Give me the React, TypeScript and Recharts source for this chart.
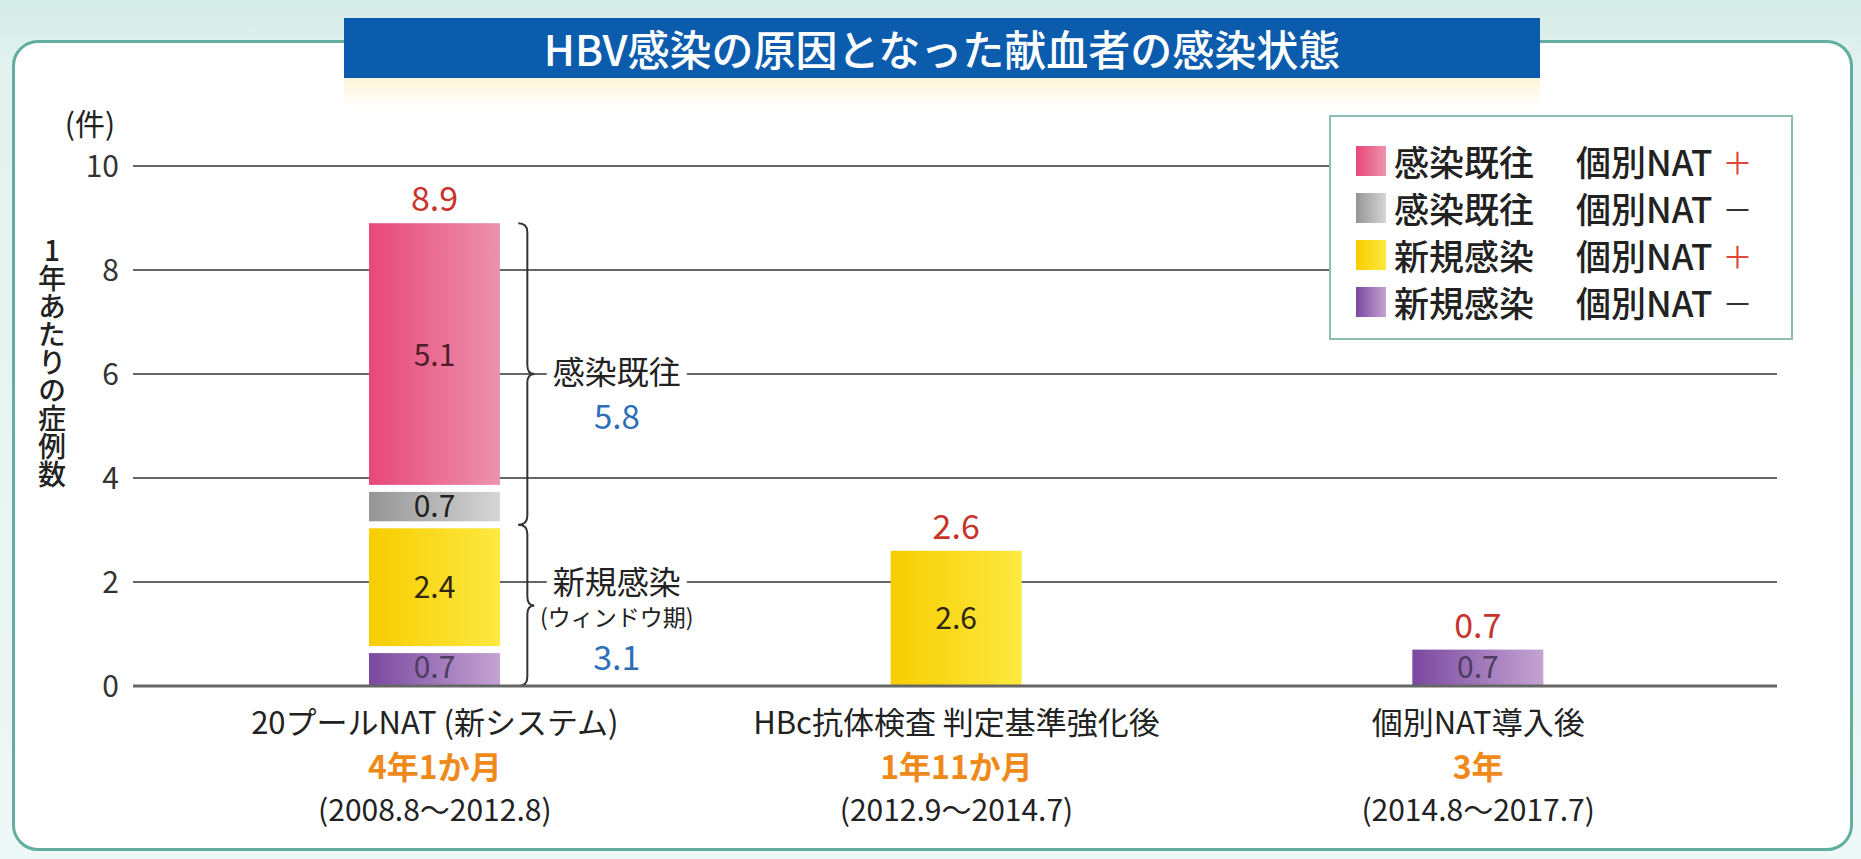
import React from 'react';
import { BarChart, Bar, XAxis, YAxis, CartesianGrid, LabelList, Legend, ReferenceArea } from 'recharts';

const FONT = '"Noto Sans CJK JP", "Noto Sans", sans-serif';

// periods on the x axis (3 lines per tick)
const periods = ['20プールNAT (新システム)', 'HBc抗体検査 判定基準強化後', '個別NAT導入後'];
const durations = ['4年1か月', '1年11か月', '3年'];
const dateRanges = ['(2008.8～2012.8)', '(2012.9～2014.7)', '(2014.8～2017.7)'];

// cases per year, stacked bottom -> top
const newNatNeg = [0.7, 0, 0.7];
const newNatPos = [2.4, 2.6, 0];
const pastNatNeg = [0.7, 0, 0];
const pastNatPos = [5.1, 0, 0];
const totals = [8.9, 2.6, 0.7];

const yTicks = [0, 2, 4, 6, 8, 10];

const seriesKeys = ['newNatNeg', 'newNatPos', 'pastNatNeg', 'pastNatPos'];
const seriesStatus = ['新規感染', '新規感染', '感染既往', '感染既往'];
const seriesNat = ['個別NAT', '個別NAT', '個別NAT', '個別NAT'];
const seriesSign = ['－', '＋', '－', '＋'];
const seriesGrad = [
    ['#7a48a0', '#c4a4d2'],
    ['#f7cd00', '#fde940'],
    ['#959595', '#d6d6d6'],
    ['#e8477a', '#ec93ad'],
];
const seriesText = ['#4d3d60', '#2e2610', '#222222', '#4f1c2a'];

const data = periods.map((period, i) => ({
    period,
    newNatNeg: newNatNeg[i],
    newNatPos: newNatPos[i],
    pastNatNeg: pastNatNeg[i],
    pastNatPos: pastNatPos[i],
    total: totals[i],
}));

const BAR_SIZE = 131;
const GAP = 7;

// rectangle with a white gap where it touches another segment
function segmentShape(k: number) {
    return (props: any) => {
        const { x, y, width, height, fill, payload } = props;
        if (!height || height <= 0) return <g />;
        const below = seriesKeys.slice(0, k).reduce((s, key) => s + (payload[key] || 0), 0);
        const above = seriesKeys.slice(k + 1).reduce((s, key) => s + (payload[key] || 0), 0);
        const t = above > 0 ? GAP / 2 : 0;
        const b = below > 0 ? GAP / 2 : 0;
        return <rect x={x} y={y + t} width={width} height={Math.max(0, height - t - b)} fill={fill} />;
    };
}

type BraceLine = { text: string; size: number; color: string; dy: number; bg?: boolean };

function braceShape(lines: BraceLine[]) {
    return (p: any) => {
        const cx = p.x + p.width / 2;
        const bx = cx + BAR_SIZE / 2 + 18;
        const top = p.y;
        const bot = p.y + p.height;
        const mid = (top + bot) / 2;
        const r = 9;
        const d = `M${bx},${top} Q${bx + r},${top} ${bx + r},${top + r} L${bx + r},${mid - r} Q${bx + r},${mid} ${bx + r + 7},${mid} Q${bx + r},${mid} ${bx + r},${mid + r} L${bx + r},${bot - r} Q${bx + r},${bot} ${bx},${bot}`;
        const tx = cx + 182;
        return (
            <g>
                <path d={d} fill="none" stroke="#333" strokeWidth={2} />
                {lines.map((l, i) => (
                    <g key={i}>
                        {l.bg && (
                            <rect x={tx - l.text.length * l.size / 2 - 6} y={mid + l.dy - l.size / 2}
                                width={l.text.length * l.size + 12} height={l.size} fill="#fff" />
                        )}
                        <text x={tx} y={mid + l.dy} textAnchor="middle" dominantBaseline="central"
                            fontSize={l.size} fill={l.color} fontFamily={FONT}>{l.text}</text>
                    </g>
                ))}
            </g>
        );
    };
}

const PeriodTick = (props: any) => {
    const { x, y, payload } = props;
    const i = periods.indexOf(payload.value);
    return (
        <g fontFamily={FONT}>
            <text x={x} y={y + 32} textAnchor="middle" dominantBaseline="central" fontSize={31} fill="#222">{periods[i]}</text>
            <text x={x} y={y + 77} textAnchor="middle" dominantBaseline="central" fontSize={32} fontWeight={700} fill="#ef8a1a">{durations[i]}</text>
            <text x={x} y={y + 120} textAnchor="middle" dominantBaseline="central" fontSize={30} fill="#222">{dateRanges[i]}</text>
        </g>
    );
};

const YTitle = (props: any) => {
    const { viewBox } = props;
    const vx = viewBox.x;
    const vy = viewBox.y;
    return (
        <g fontFamily={FONT} fill="#222">
            <text x={vx + 17} y={vy - 44} textAnchor="middle" dominantBaseline="central" fontSize={30}>(件)</text>
            <text x={vx - 21} y={vy + 196} textAnchor="middle" fontSize={28} fontWeight={500}
                style={{ writingMode: 'vertical-rl', textOrientation: 'upright' } as any}>1年あたりの症例数</text>
        </g>
    );
};

const renderLegend = () => (
    <div style={{
        width: 464, height: 225, boxSizing: 'border-box', border: '2px solid #8dbcb2', background: '#fff',
        padding: '20px 0 0 25px', fontFamily: FONT, color: '#222', fontWeight: 500,
    }}>
        {[3, 2, 1, 0].map((k) => (
            <div key={k} style={{ display: 'flex', alignItems: 'center', height: 47 }}>
                <span style={{ width: 30, height: 30, background: `linear-gradient(to right, ${seriesGrad[k][0]}, ${seriesGrad[k][1]})` }} />
                <span style={{ marginLeft: 8, width: 182, fontSize: 35 }}>{seriesStatus[k]}</span>
                <span style={{ fontSize: 35 }}>{seriesNat[k]}</span>
                <span style={{ marginLeft: 10, fontSize: 30, fontWeight: 400, color: seriesSign[k] === '＋' ? '#e0483a' : '#333' }}>{seriesSign[k]}</span>
            </div>
        ))}
    </div>
);

const fmt = (v: any) => (Number(v) > 0 ? Number(v).toFixed(1) : '');

export default function App() {
    const pastSum = pastNatNeg[0] + pastNatPos[0];
    const newSum = newNatNeg[0] + newNatPos[0];
    return (
        <div style={{ position: 'absolute', left: 0, top: 0, width: 1861, height: 859, overflow: 'hidden', background: 'linear-gradient(#d4ebe6, #e2f2ee 60px, #eef8f6)' }}>
            <div style={{ position: 'absolute', left: 12, top: 40, width: 1841, height: 811, boxSizing: 'border-box', border: '3px solid #62ae9f', borderRadius: 26, background: '#fff' }} />
            <div style={{ position: 'absolute', left: 344, top: 78, width: 1196, height: 30, background: 'linear-gradient(#fcf3d6, #fff)' }} />
            <div style={{
                position: 'absolute', left: 344, top: 18, width: 1196, height: 60, background: '#0c5cae',
                color: '#fff', fontFamily: FONT, fontSize: 42, fontWeight: 500, lineHeight: '60px', textAlign: 'center',
            }}>HBV感染の原因となった献血者の感染状態</div>
            <div style={{ position: 'absolute', left: 0, top: 0 }}>
                <BarChart width={1861} height={859} data={data} margin={{ top: 166, right: 84, bottom: 23, left: 73 }}>
                    <defs>
                        {seriesKeys.map((key, k) => (
                            <linearGradient key={key} id={`g-${key}`} x1="0" y1="0" x2="1" y2="0">
                                <stop offset="0%" stopColor={seriesGrad[k][0]} />
                                <stop offset="100%" stopColor={seriesGrad[k][1]} />
                            </linearGradient>
                        ))}
                    </defs>
                    <CartesianGrid vertical={false} stroke="#333" strokeWidth={1.5} />
                    <XAxis dataKey="period" interval={0} axisLine={{ stroke: '#666', strokeWidth: 3 }} tickLine={false}
                        tickSize={0} height={150} padding={{ left: 41, right: 38 }} tick={<PeriodTick />} />
                    <XAxis xAxisId="tot" dataKey="period" hide padding={{ left: 41, right: 38 }} />
                    <YAxis domain={[0, 10]} ticks={yTicks} interval={0} axisLine={false} tickLine={false} tickSize={0}
                        tickMargin={14} width={60} tick={{ fontSize: 30, fill: '#333', fontFamily: FONT }}
                        label={<YTitle />} />
                    {seriesKeys.map((key, k) => (
                        <Bar key={key} dataKey={key} name={`${seriesStatus[k]} ${seriesNat[k]} ${seriesSign[k]}`}
                            stackId="a" fill={`url(#g-${key})`} barSize={BAR_SIZE} isAnimationActive={false}
                            shape={segmentShape(k)}>
                            <LabelList dataKey={key} position="center" formatter={fmt} fontSize={30}
                                fill={seriesText[k]} fontFamily={FONT} />
                        </Bar>
                    ))}
                    <Bar xAxisId="tot" dataKey="total" fill="transparent" barSize={BAR_SIZE} isAnimationActive={false} legendType="none">
                        <LabelList dataKey="total" position="top" offset={12} formatter={fmt} fontSize={34}
                            fill="#c8342c" fontFamily={FONT} />
                    </Bar>
                    <ReferenceArea x1={periods[0]} x2={periods[0]} y1={newSum} y2={totals[0]} ifOverflow="visible"
                        shape={braceShape([
                            { text: '感染既往', size: 32, color: '#222', dy: -4, bg: true },
                            { text: pastSum.toFixed(1), size: 33, color: '#2c6fb7', dy: 41 },
                        ])} />
                    <ReferenceArea x1={periods[0]} x2={periods[0]} y1={0} y2={newSum} ifOverflow="visible"
                        shape={braceShape([
                            { text: '新規感染', size: 32, color: '#222', dy: -25, bg: true },
                            { text: '(ウィンドウ期)', size: 23, color: '#222', dy: 11 },
                            { text: newSum.toFixed(1), size: 34, color: '#2c6fb7', dy: 50 },
                        ])} />
                    <Legend verticalAlign="middle" align="center" layout="horizontal" content={renderLegend}
                        wrapperStyle={{ left: 1329, top: 115, width: 464, height: 225 }} />
                </BarChart>
            </div>
        </div>
    );
}
